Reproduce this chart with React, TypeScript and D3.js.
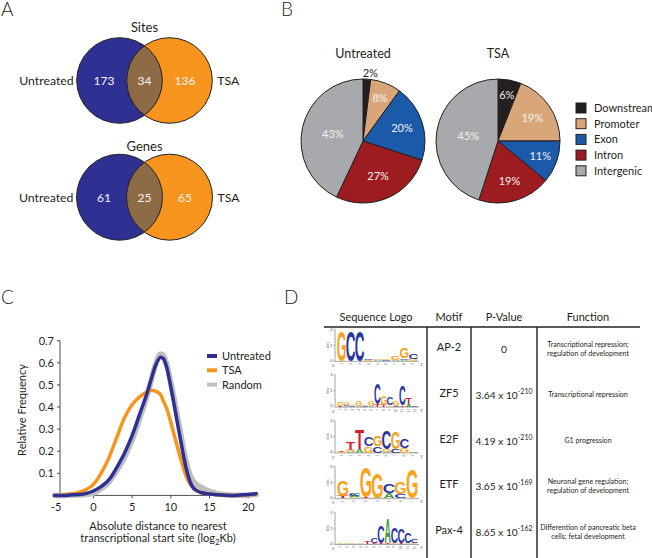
import React from 'react';
import * as d3 from 'd3';

const FONT = "Lato, 'Open Sans', sans-serif";
const INK = '#231f20';

// ---------- Panel A : Venn ----------
const vennSetNames = ['Sites', 'Genes'];
const vennGroupNames = ['Untreated', 'TSA'];
const vennOnlyUntreated = [173, 61];
const vennShared = [34, 25];
const vennOnlyTSA = [136, 65];

// ---------- Panel B : Pies ----------
const pieCategories = ['Downstream', 'Promoter', 'Exon', 'Intron', 'Intergenic'];
const pieGroupNames = ['Untreated', 'TSA'];
const pieUntreated = [2, 8, 20, 27, 43];
const pieTSA = [6, 19, 11, 19, 45];
const pieColors = ['#231f20', '#d9a67a', '#1a5aa9', '#9d1c20', '#a7a9ac'];

// ---------- Panel C : density ----------
const distX = [-5, -4, -3, -2, -1, 0, 1, 2, 3, 4, 5, 6, 7, 7.5, 8, 8.7, 9, 9.5, 10, 11, 12, 12.5, 13, 14, 15, 16, 17, 18, 19, 20, 21];
const freqUntreated = [0, 0, 0.002, 0.004, 0.008, 0.02, 0.04, 0.07, 0.125, 0.19, 0.27, 0.37, 0.47, 0.53, 0.585, 0.625, 0.62, 0.575, 0.49, 0.3, 0.12, 0.06, 0.03, 0.012, 0.006, 0.003, 0.001, 0, 0.002, 0.004, 0.008];
const freqTSA = [0, 0.002, 0.006, 0.012, 0.025, 0.05, 0.1, 0.17, 0.26, 0.35, 0.41, 0.447, 0.47, 0.476, 0.472, 0.455, 0.43, 0.39, 0.33, 0.2, 0.085, 0.05, 0.03, 0.012, 0.006, 0.003, 0.001, 0, 0.001, 0.003, 0.005];
const freqRandom = [0, 0, 0.001, 0.002, 0.004, 0.01, 0.03, 0.06, 0.11, 0.17, 0.25, 0.35, 0.46, 0.525, 0.59, 0.64, 0.635, 0.59, 0.51, 0.33, 0.15, 0.09, 0.06, 0.035, 0.018, 0.008, 0.003, 0.001, 0.001, 0.002, 0.004];
const yTickValues = [0.1, 0.2, 0.3, 0.4, 0.5, 0.6, 0.7];
const xTickValues = [-5, 0, 5, 10, 15, 20];
const seriesNames = ['Untreated', 'TSA', 'Random'];

// ---------- Panel D : motif table ----------
const tableHeaders = ['Sequence Logo', 'Motif', 'P-Value', 'Function'];
const motifNames = ['AP-2', 'ZF5', 'E2F', 'ETF', 'Pax-4'];
const pMantissa = ['0', '3.64', '4.19', '3.65', '8.65'];
const pExponent: (number | null)[] = [null, -210, -210, -169, -162];
const motifFunctions = [
  ['Transcriptional repression;', 'regulation of development'],
  ['Transcriptional repression'],
  ['G1 progression'],
  ['Neuronal gene regulation;', 'regulation of development'],
  ['Differention of pancreatic beta', 'cells; fetal development'],
];
type Stack = [string, number][];
const logoAP2: Stack[] = [
  [['G', 1.9]], [['C', 1.95]], [['C', 1.95]],
  [['G', 0.04], ['C', 0.06]], [['A', 0.04], ['G', 0.05]], [['C', 0.04], ['G', 0.05]],
  [['A', 0.08], ['G', 0.28]], [['A', 0.06], ['C', 0.1], ['G', 0.62]], [['G', 0.12], ['C', 0.35]],
];
const logoZF5: Stack[] = [
  [['T', 0.03], ['G', 0.2]], [['A', 0.05], ['C', 0.05], ['G', 0.15]], [['C', 0.05], ['G', 0.1]],
  [['A', 0.05], ['G', 0.3]], [['C', 0.05], ['G', 0.1]], [['A', 0.05], ['G', 0.3]],
  [['T', 0.15], ['C', 1.3]], [['T', 0.12], ['G', 0.6]], [['G', 0.1], ['C', 0.45]],
  [['C', 0.08], ['G', 0.35]], [['T', 0.1], ['C', 1.25]], [['A', 0.15], ['T', 0.4]], [['C', 0.02]],
];
const logoE2F: Stack[] = [
  [['G', 0.04], ['T', 0.06]], [['A', 0.05], ['G', 0.12], ['T', 0.45]], [['A', 0.22], ['T', 1.25]],
  [['G', 0.4], ['C', 0.6]], [['C', 0.4], ['G', 0.62]], [['A', 0.04], ['G', 0.18], ['C', 1.15]],
  [['C', 0.2], ['G', 1.1]], [['G', 0.3], ['C', 0.55]], [['A', 0.02]],
];
const logoETF: Stack[] = [
  [['T', 0.12], ['G', 1.0]], [['G', 0.06], ['A', 0.12], ['C', 0.18]], [['T', 0.06], ['G', 1.9]],
  [['A', 0.04], ['G', 1.55]], [['A', 0.35], ['C', 0.6]], [['C', 0.25], ['G', 0.75]], [['G', 1.85]],
];
const logoPax4: Stack[] = [
  [['G', 0.02]], [['A', 0.02]], [['G', 0.02]], [['A', 0.03]], [['T', 0.12]],
  [['T', 0.1], ['C', 0.35]], [['T', 0.05], ['C', 1.1]], [['T', 0.1], ['A', 1.55]],
  [['G', 0.1], ['C', 1.0]], [['T', 0.1], ['C', 0.9]], [['A', 0.05], ['C', 0.7]], [['G', 0.05], ['C', 0.25]],
];
const motifLogos = [logoAP2, logoZF5, logoE2F, logoETF, logoPax4];

const BLUE = '#2e3192';
const ORANGE = '#f7941d';
const BROWN = '#8d6b47';
const GRAY = '#bcbec0';

const LETTER_COLORS: Record<string, string> = { A: '#3a9e3a', C: '#2b36a3', G: '#f8a31b', T: '#d3202a' };
const INK_W: Record<string, number> = { A: 7.2, C: 6.3, G: 6.9, T: 5.7 };
const CAP = 7.2;

function Venn({ idx, cx, cy, r, titleY }: { idx: number; cx: number; cy: number; r: number; titleY: number }) {
  const d = 25;
  const lx = cx - d;
  const rx = cx + d;
  const id = `vclip${idx}`;
  return (
    <g>
      <defs>
        <clipPath id={id}>
          <circle cx={rx} cy={cy} r={r} />
        </clipPath>
      </defs>
      <text x={cx} y={titleY} textAnchor="middle" fontSize={13} fill={INK}>{vennSetNames[idx]}</text>
      <circle cx={lx} cy={cy} r={r} fill={BLUE} />
      <circle cx={rx} cy={cy} r={r} fill={ORANGE} />
      <circle cx={lx} cy={cy} r={r} fill={BROWN} clipPath={`url(#${id})`} />
      <circle cx={lx} cy={cy} r={r} fill="none" stroke={INK} strokeWidth={1} />
      <circle cx={rx} cy={cy} r={r} fill="none" stroke={INK} strokeWidth={1} />
      <text x={lx - 15.5} y={cy + 4.5} textAnchor="middle" fontSize={12} fill="#f4f4f4">{vennOnlyUntreated[idx]}</text>
      <text x={cx} y={cy + 4.5} textAnchor="middle" fontSize={12} fill="#f4f4f4">{vennShared[idx]}</text>
      <text x={rx + 15.5} y={cy + 4.5} textAnchor="middle" fontSize={12} fill="#f4f4f4">{vennOnlyTSA[idx]}</text>
      <text x={lx - r - 3} y={cy + 4.5} textAnchor="end" fontSize={12.3} fill={INK}>{vennGroupNames[0]}</text>
      <text x={rx + r + 5} y={cy + 4.5} textAnchor="start" fontSize={12.3} fill={INK}>{vennGroupNames[1]}</text>
    </g>
  );
}

function Pie({ cx, cy, values, title }: { cx: number; cy: number; values: number[]; title: string }) {
  const R = 62;
  const arcs = d3.pie<number>().sort(null).value((v) => v)(values);
  const arcGen = d3.arc<d3.PieArcDatum<number>>().innerRadius(0).outerRadius(R);
  return (
    <g transform={`translate(${cx},${cy})`}>
      <text x={0} y={-R - 21.5} textAnchor="middle" fontSize={12.5} fill={INK}>{title}</text>
      {arcs.map((a, i) => (
        <path key={i} d={arcGen(a) || ''} fill={pieColors[i]} stroke={INK} strokeWidth={1} />
      ))}
      {arcs.map((a, i) => {
        const v = a.data;
        const ang = (a.startAngle + a.endAngle) / 2;
        const outside = v < 4;
        const rl = outside ? R + 6 : R * (0.8 - 0.007 * v);
        const x = rl * Math.sin(ang) + (outside ? 3 : 0);
        const y = -rl * Math.cos(ang);
        return (
          <text key={i} x={x} y={y + 4} textAnchor="middle" fontSize={11} fill={outside ? INK : '#f2f2f2'}>{`${v}%`}</text>
        );
      })}
    </g>
  );
}

function Logo({ stacks, x0, yb }: { stacks: Stack[]; x0: number; yb: number }) {
  const width = 81;
  const xs = d3.scaleBand<number>().domain(d3.range(stacks.length)).range([x0, x0 + width]).padding(0.03);
  const ys = d3.scaleLinear().domain([0, 2]).range([yb, yb - 32]);
  const w = xs.bandwidth();
  const letters: React.ReactNode[] = [];
  stacks.forEach((stack, i) => {
    let acc = 0;
    stack.forEach(([L, h], j) => {
      const y0 = ys(acc);
      acc += h;
      const y1 = ys(acc);
      const hp = Math.max(0.6, y0 - y1);
      const cxl = (xs(i) as number) + w / 2;
      letters.push(
        <text
          key={`${i}-${j}`}
          transform={`translate(${cxl},${y0}) scale(${(w * 0.98) / INK_W[L]},${hp / CAP})`}
          fontSize={10}
          fontFamily="'Liberation Sans', Arial, sans-serif"
          fontWeight="bold"
          textAnchor="middle"
          fill={LETTER_COLORS[L]}
        >
          {L}
        </text>
      );
    });
  });
  const ax = x0 - 2;
  return (
    <g>
      <line x1={ax} x2={ax} y1={ys(2)} y2={yb} stroke="#666" strokeWidth={0.6} />
      <line x1={ax} x2={x0 + width + 1} y1={yb + 0.3} y2={yb + 0.3} stroke="#666" strokeWidth={0.6} />
      {[0, 1, 2].map((t) => (
        <g key={t}>
          <line x1={ax - 1.5} x2={ax} y1={ys(t)} y2={ys(t)} stroke="#666" strokeWidth={0.5} />
          <text x={ax - 2.5} y={ys(t) + (t === 0 ? 0.5 : 1.5)} textAnchor="end" fontSize={4} fill="#555">{t}</text>
        </g>
      ))}
      <text transform={`translate(${ax - 6},${ys(1)}) rotate(-90)`} textAnchor="middle" fontSize={3.8} fill="#555">bits</text>
      {stacks.map((_, i) => (
        <text key={i} transform={`translate(${(xs(i) as number) + w / 2 + 1},${yb + 2}) rotate(-90)`} textAnchor="end" fontSize={3.3} fill="#666">{i + 1}</text>
      ))}
      <text x={ax - 3} y={yb + 6} fontSize={4} fill="#555">5'</text>
      <text x={x0 + width + 2} y={yb + 5} fontSize={4} fill="#555">3'</text>
      {letters}
    </g>
  );
}

function DensityChart() {
  const x = d3.scaleLinear().domain([-5, 20]).range([54.6, 248.3]);
  const y = d3.scaleLinear().domain([0, 0.7]).range([495.4, 340.7]);
  const line = d3
    .line<[number, number]>()
    .x((d) => x(d[0]))
    .y((d) => y(d[1]))
    .curve(d3.curveMonotoneX);
  const mk = (vals: number[]) => distX.map((xx, i) => [xx, vals[i]] as [number, number]);
  const series = [
    { name: seriesNames[2], vals: freqRandom, color: GRAY, w: 5.5 },
    { name: seriesNames[1], vals: freqTSA, color: ORANGE, w: 3.5 },
    { name: seriesNames[0], vals: freqUntreated, color: BLUE, w: 3.5 },
  ];
  const legend = [
    { name: seriesNames[0], color: BLUE },
    { name: seriesNames[1], color: ORANGE },
    { name: seriesNames[2], color: GRAY },
  ];
  const axX = 60;
  return (
    <g>
      <line x1={axX} x2={axX} y1={y(0.7)} y2={y(0)} stroke={INK} strokeWidth={0.8} />
      <line x1={axX} x2={257} y1={y(0)} y2={y(0)} stroke={INK} strokeWidth={0.8} />
      {yTickValues.map((t) => (
        <g key={t}>
          <line x1={axX - 3} x2={axX} y1={y(t)} y2={y(t)} stroke={INK} strokeWidth={0.8} />
          <text x={54} y={y(t) + 4} textAnchor="end" fontSize={11} fill={INK}>{t.toFixed(1)}</text>
        </g>
      ))}
      {xTickValues.map((t) => (
        <g key={t}>
          {t > -5 && <line x1={x(t)} x2={x(t)} y1={y(0)} y2={y(0) + 3} stroke={INK} strokeWidth={0.8} />}
          <text x={x(t) + (t < 0 ? 1.5 : 0)} y={511} textAnchor="middle" fontSize={11} fill={INK}>{t}</text>
        </g>
      ))}
      {series.map((s) => (
        <path key={s.name} d={line(mk(s.vals)) || ''} fill="none" stroke={s.color} strokeWidth={s.w} strokeLinejoin="round" strokeLinecap="round" />
      ))}
      {legend.map((l, i) => (
        <g key={l.name}>
          <line x1={207} x2={217} y1={356 + i * 14.3} y2={356 + i * 14.3} stroke={l.color} strokeWidth={4} />
          <text x={222} y={356 + i * 14.3 + 4} fontSize={11} fill={INK}>{l.name}</text>
        </g>
      ))}
      <text transform="translate(26,410) rotate(-90)" textAnchor="middle" fontSize={11} fill={INK}>Relative Frequency</text>
      <text x={158} y={530} textAnchor="middle" fontSize={11} fill={INK}>Absolute distance to nearest</text>
      <text x={158} y={542} textAnchor="middle" fontSize={11} fill={INK}>
        transcriptional start site (log<tspan dy={3} fontSize={8}>2</tspan><tspan dy={-3}>Kb)</tspan>
      </text>
    </g>
  );
}

function MotifTable() {
  const colX = [376, 449, 504, 588];
  const rowY = motifNames.map((_, i) => 347 + i * 45.8);
  return (
    <g>
      {tableHeaders.map((h, i) => (
        <text key={h} x={colX[i]} y={321} textAnchor="middle" fontSize={11} fill={INK}>{h}</text>
      ))}
      <line x1={324} x2={640} y1={327} y2={327} stroke={INK} strokeWidth={1.5} />
      {[427, 471, 537].map((vx) => (
        <line key={vx} x1={vx} x2={vx} y1={327} y2={558} stroke={INK} strokeWidth={1.4} />
      ))}
      {motifNames.map((m, i) => (
        <g key={m}>
          <Logo stacks={motifLogos[i]} x0={337} yb={rowY[i] + 14} />
          <text x={colX[1]} y={rowY[i] + 4} textAnchor="middle" fontSize={11} fill={INK}>{m}</text>
          <text x={colX[2]} y={rowY[i] + 6} textAnchor="middle" fontSize={10.2} fill={INK}>
            {pMantissa[i]}
            {pExponent[i] !== null && (
              <>
                {' x 10'}
                <tspan dy={-5} fontSize={7}>{`${pExponent[i]}`}</tspan>
              </>
            )}
          </text>
          {motifFunctions[i].map((ln, j) => {
            const n = motifFunctions[i].length;
            const by = rowY[i] + 1.5 + (j - (n - 1) / 2) * 9 + 2.6;
            return (
              <text key={j} x={colX[3]} y={by} textAnchor="middle" fontSize={7.1} fill={INK}>{ln}</text>
            );
          })}
        </g>
      ))}
    </g>
  );
}

export default function App() {
  const W = 652;
  const H = 558;
  return (
    <svg width={W} height={H} style={{ position: 'absolute', left: 0, top: 0, background: '#fff' }} fontFamily={FONT}>
      <rect x={0} y={0} width={W} height={H} fill="#fff" />
      <text x={1} y={16} fontSize={19} fontWeight={300} fill={INK}>A</text>
      <text x={281} y={16} fontSize={19} fontWeight={300} fill={INK}>B</text>
      <text x={1} y={304} fontSize={19} fontWeight={300} fill={INK}>C</text>
      <text x={284} y={304} fontSize={19} fontWeight={300} fill={INK}>D</text>

      <Venn idx={0} cx={144.5} cy={80.5} r={42.8} titleY={31.5} />
      <Venn idx={1} cx={144.5} cy={197.2} r={43} titleY={150.5} />

      <Pie cx={363} cy={141} values={pieUntreated} title={pieGroupNames[0]} />
      <Pie cx={498} cy={141} values={pieTSA} title={pieGroupNames[1]} />
      {pieCategories.map((c, i) => (
        <g key={c}>
          <rect x={576} y={108 - 5 + i * 15.7} width={10} height={10} fill={pieColors[i]} stroke={INK} strokeWidth={1} />
          <text x={594} y={108 + 4 + i * 15.7} fontSize={11} fill={INK}>{c}</text>
        </g>
      ))}

      <DensityChart />
      <MotifTable />
    </svg>
  );
}
